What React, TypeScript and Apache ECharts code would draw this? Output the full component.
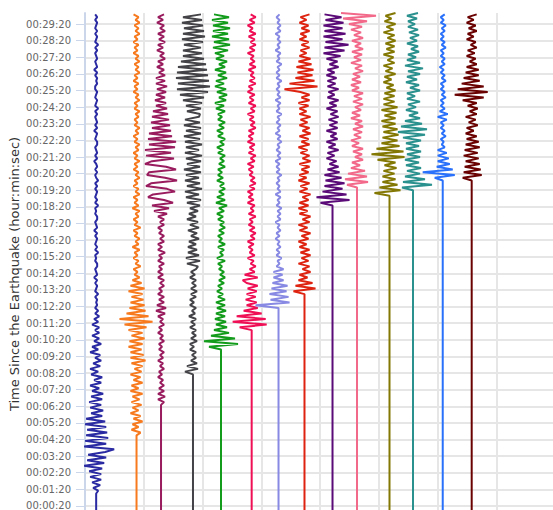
import React, { useEffect, useRef } from "react";
import * as echarts from "echarts";

const STEP = 10;
const TIME_MAX = 1800;
// one horizontal axis unit equals this many amplitude counts
const COUNTS_PER_UNIT = 58.75;

// y-axis tick positions (seconds since the earthquake)
const tickSeconds = [
  20, 80, 140, 200, 260, 320, 380, 440, 500, 560, 620, 680, 740, 800, 860,
  920, 980, 1040, 1100, 1160, 1220, 1280, 1340, 1400, 1460, 1520, 1580, 1640,
  1700, 1760,
];

const traceNames = [
  "S01", "S02", "S03", "S04", "S05", "S06", "S07",
  "S08", "S09", "S10", "S11", "S12", "S13", "S14",
];
const traceColors = [
  "#2a2aa2", "#f77a1f", "#991c5e", "#444448", "#139b1c", "#ef0f55", "#8789e3",
  "#de2411", "#5b0b77", "#f2698a", "#847805", "#2b918e", "#2970fa", "#6a0202",
];
// horizontal baseline of each trace (axis units)
const traceOffsets = [
  0.19, 0.877, 1.294, 1.838, 2.315, 2.837, 3.294,
  3.736, 4.213, 4.63, 5.183, 5.583, 6.089, 6.582,
];
// first shaking (seconds)
const arrivalSeconds = [
  75, 285, 395, 505, 595, 665, 745, 795, 1115, 1180, 1150, 1170, 1205, 1205,
];

const amp01 = [
  2, -3, 4, -4, 5, -6, 5, -7, 6, -12,
  8, -9, 10, -8, 9, 18, -12, 10, -11, 12, -10, 11, -9,
  10, -11, 9, -10,
  6, -5, 7, -6, 5, -7, 6, -5,
  7, -4, 3, -6, 5, -2, 6, -5, 2, -6, 4,
  -3, 5, -1, 4, -6, 2, -4, 5, -2, 3,
  -4, 3, -1, 3, -4, 2, -2, 3, -1, 2,
  -1, 1, 0, 1, -1, 2, -1, 0, 1, -1,
  1, -2, 1, 0, -1, 1, 1, -1, 0, -1,
  2, -1, 1, -1, 0, 1, -1, 1, -2, 1,
  0, -1, 1, 1, -1, 0, -1, 2, -1, 1,
  -1, 0, 1, -1, 1, -1, 2, 0, -1, 1,
  -1, 1, 0, -2, 1, -1, 1, 0, -1, 1,
  1, -1, 0, 1, -2, 1, -1, 1, 0, -1,
  1, -1, 2, -1, 0, 1, -1, 0, 1, -1,
  -1, 1, 0, 1, -1, 1, -2, 1, 0, -1,
  1, 0, -1, 1, -1, 2, -1, 0, 1, -1,
  1, -1, 0, 1, -1, 1, -1,
];

const amp02 = [
  4, -5, 2, -4, 6, -3, 4, -6, 2, -4, 5,
  -5, 3, -4, 6, -6, 2, -5, 6, -3, 4, -6, 5, -2, 6, -5,
  9, -6,
  7, -6, 5, -8, 6, -7, 8, -5, 6, -8,
  10, -12, 16, -17,
  12, -10, 9,
  -7, 8, -6, 7, -5, 6,
  -8, 8, -6, 5, -4,
  3, -2, 1, -3, 4, -1, 2, -3, 1, -2,
  3, -4, 2, -1, 3, -2, 1, -3, 4, -2,
  1, -3, 2, -1, 3, -4, 2, -2, 1, -3,
  3, -1, 2, -3, 1, -2, 3, -1, 2, -3,
  1, -2, 3, -2, 1, -3, 2, -1, 3, -2,
  1, -3, 2, -1, 3, -2, 1, -2, 2, -1,
  3, -2, 1, -2, 3, -1, 2, -3, 1, -2,
  2, -3, 1, -2, 3, -1, 2, -2, 3, -1,
  2, -3, 1, -2, 2, -3, 1, -2, 3, -1,
  2, -2, 3, -1, 2, -3,
];

const amp03 = [
  3, -3, 4, -3, 3,
  -2, 3, -1, 2, -3, 1, -2, 3, -1, 2, -3, 2, -1, 3, -2, 1, -2, 3, -1, 2, -3,
  1, -2, 3, -1, 2, -3,
  4, -5, 5, -4, 3,
  -2, 3, -3, 1, -2, 3, -1, 3, -3, 2, -3, 1, -2, 3, -3, 1, -2, 4, -3, 1, -3,
  3, -1, 3, -2, 1, -3, 3, -1, 3, -3,
  6, -7, 8, -9,
  12, 3, -13, -8, 14, 6, -15, -10, 16, 4, -14, -12, 15, 5, -16, -9,
  13, -15, 10, -16, 14, -12, 15, -13, 11, -12, 10, -9,
  9, -10, 8, -9, 7, -8,
  6, -5, 5, -6, 4, -5, 5, -4, 6, -5, 4, -5,
  4, -2, 3, -4, 2, -3, 4, -1, 3, -4, 2, -3, 4, -2, 3, -3, 4, -1, 3, -4, 2,
  -3, 3,
];

const amp04 = [
  -8, 5, -6,
  4, -2, 3, -1, 3, -3, 1, -3, 4, -2, 3, -1, 3, -3, 2, -2, 3, -4, 2, -1,
  3, -3, 1, -3, 3, -2, 4, -2, 3, -1, 3, -3, 2, -2, 3,
  5, -6, 7, -7, 6, -5, 4,
  -5, 3, -4, 6, -2, 4, -5, 6, -3, 5, -6, 3, -4, 5, -3,
  7, -6, 8, -7, 6, -8, 9, -6, 7, -8, 6, -7, 8, -9, 7, -6, 8, -7, 9, -8, 6,
  -7, 9, -8, 7, -9, 8, -7, 8, -9, 7, -8, 6,
  7, -6, 8, -7, 9, -10, 11,
  -13, 15, -16, 17, -15, 16, -17, 15, -16, 14, -15, 13, -12,
  11, -10, 9, -10, 8, -9,
  10, -11, 12, -10, 11, -9, 10, -11, 9, -10, 8,
];

const amp05 = [
  -12, 17, -17, 14, -10, 8, -7,
  6, -5, 5, -6, 4, -5, 5, -4, 4, -5, 4,
  -3, 2, -4, 1, -3, 3, -2, 4, -1, 3, -2, 1, -3, 4, -4, 2, -1, 3, -3, 4,
  -2, 1, -3, 3, -2, 4, -1, 3, -3, 2, -4, 3, -2,
  6, -5, 4, -4,
  3, -2, 4, -1, 3, -4, 2, -3, 1, -3, 4, -2, 3, -1, 4, -3, 2, -4, 3, -1,
  4, -3, 2, -4, 3, -2, 4, -3, 1, -3, 4,
  -5, 3, -6, 5, -2, 6, -4, 5, -6, 3, -5, 6, -3, 5, -6, 4, -2, 6, -5, 3, -6,
  7, -8, 9, -7, 8, -9, 7, -8, 9, -8, 7, -9, 8, -7,
];

const amp06 = [
  -12, 15, -19, 14, -15, 10, -8,
  6, -5, 5, -6, 4, -5, 5, -4,
  6, -5,
  -9, 6, -7,
  3, -2, 4, -1, 2, -4, 3, -2, 1, -3,
  2, -4, 3, -1, 4, -2, 3, -3, 1, -2,
  4, -3, 2, -1, 3, -4, 2, -3, 1, -4,
  3, -2, 4, -1, 3, -2, 1, -3, 2, -4,
  3, -1, 4, -3, 2, -2, 3, -4, 1, -3,
  2, -3, 4, -1, 3, -2, 2, -4, 3, -1,
  4, -3, 2, -2, 3, -4, 1, -3, 4, -2,
  3, -1, 2, -3, 4, -2, 3, -1, 2, -4,
  3, -2, 4, -1, 3, -3, 4, -2, 1, -4,
  3, -2, 4, -1,
];

const amp07 = [
  -23, 11,
  -8, 10, -9, 8, -7, 9, -6,
  5, -5, 4, -5, 5,
  -2, 1, -1, 3, -2, 1, -2, 2, -1, 1,
  -3, 1, -2, 2, -1, 1, -3, 2, -1, 2,
  -1, 3, -2, 1, -1, 2, -3, 2, -1, 1,
  -2, 1, -1, 3, -2, 1, -2, 1, -3, 2,
  -1, 2, -2, 1, -1, 3, -1, 2, -3, 1,
  -1, 2, -2, 1, -1, 3, -2, 1, -1, 2,
  -3, 2, -1, 1, -2, 1, -1, 3, -2, 1,
  -2, 1, -1, 3, -2, 1, -1, 2, -3, 1,
  -1, 2, -1, 1, -3, 2, -1, 2, -1, 1,
  -2, 1,
];

const amp08 = [
  -11, 11, -9, 8,
  -6, 3, -5, 6, -2, 5, -6, 4, -3, 6, -4, 5, -5, 2, -6, 4, -3, 6, -5, 3,
  -6, 5, -2, 6, -5, 3, -6, 4,
  -5, 4, -2, 6, -5, 3, -4, 5, -6, 2, -5, 4, -3, 5, -5, 6, -2, 5, -4, 3,
  -6, 5, -3, 4, -5, 6, -2, 5, -5, 3, -4, 6, -5, 2, -5, 4, -6, 5, -3, 5, -4,
  -20, 13, -15, 10, -9,
  8, -7, 9, -8, 7, -6, 6,
  -5, 2, -4, 5, -3, 4, -5, 2, -4, 5, -3, 4, -5, 2, -4, 5,
];

const amp09 = [
  -12, 17, -16, 14, -10,
  10, -8, 12, -7, 9, -8, 7,
  -5, 6, -3, 4, -6, 2, -5, 6, -4, 3, -6, 5, -2, 4, -6, 5, -3, 5, -4, 6,
  -2, 5, -6, 4, -3, 6, -5, 2, -4, 6, -5, 3, -5, 4, -6, 2, -5, 6, -3, 5, -6,
  8, -9, 12, -8, 16, -7, 10, -9, 13, -8, 10, -9, 11, -7, 9, -8,
];

const amp10 = [
  -10, 11, -12, 10, -9, 8,
  -6, 3, -5, 6, -2, 5, -4, 6, -5, 2, -6, 4, -3, 5, -4, 6, -2, 5, -6, 3,
  -5, 4, -2, 6, -4, 5, -3, 6, -5, 2, -6, 4, -5, 3, -4, 6, -2, 5, -6, 4,
  -3, 5, -5, 6, -2, 4, -5, 6, -3, 4, -6, 5,
  -8, 10, -14, 19, -16,
];

const amp11 = [
  -15, 11, -10, 8,
  -7, 6, -7, 5, -6, 7, -5, 6,
  -12, 15, -18, 14, -13, 10,
  -8, 8, -7, 9, -6, 8, -7, 6, -8,
  6, -5, 7, -8, 8, -6, 5, -6, 5,
  -5, 6, -3, 4, -6, 2, -5, 6, -4, 3, -6, 5, -2, 4, -6, 5, -3, 5, -4, 6,
  -2, 5, -6, 4, -3, 6, -5, 2, -4, 6,
];

const amp12 = [
  -11, 19, -10, 12, -8,
  7, -6, 8, -7, 6, -8, 7, -6, 8, -7, 6, -7, 8,
  -10, 12, -15, 14, -12, 9, -8,
  7, -4, 5, -7, 3, -5, 7, -6, 2, -6, 7, -3, 6, -7, 4, -6, 7, -5,
  10, -8, 7,
  -6, 3, -5, 6, -2, 5, -6, 4, -3, 6, -4, 5, -5, 2, -5, 4, -6, 5,
];

const amp13 = [
  -8, 12, -20, 10,
  -6, 7, -5, 6, -5, 4, -5,
  2, -1, 1, -2, 3, -1, 2, -2, 1, -2,
  4, -5, 5, -3, 2, -2, 1, -2, 3, -1,
  2, -2, 1, -2, 3, -1, 2, -2, 1, -3,
  2, -1, 2, -2, 1, -2, 3, -1, 2, -2,
  1, -2, 2, -1, 3, -2, 1, -2, 2,
];

const amp14 = [
  -9, 10, -8, 9,
  -7, 8, -6, 7, -8, 6, -7, 8, -6, 7, -5,
  5, -6, 2, -5, 6, -3, 4, -6, 5, -2, 6, -4, 5,
  -9, 12, -17, 16, -14, 12, -10,
  8, -8, 7, -6, 7, -5,
  5, -2, 4, -5, 3, -4, 5, -1, 4, -5, 2, -4, 5, -3, 4, -5, 2, -4, 5,
];

const traceAmps = [
  amp01, amp02, amp03, amp04, amp05, amp06, amp07,
  amp08, amp09, amp10, amp11, amp12, amp13, amp14,
];

function fmtTime(v: number): string {
  const m = Math.floor(v / 60);
  const s = Math.round(v - m * 60);
  const p = (n: number) => (n < 10 ? "0" + n : String(n));
  return "00:" + p(m) + ":" + p(s);
}

export default function App() {
  const ref = useRef<HTMLDivElement>(null);

  useEffect(() => {
    if (!ref.current) return;
    const chart = echarts.init(ref.current, undefined, { renderer: "svg" });

    const series = traceNames.map((name, k) => {
      const off = traceOffsets[k];
      const start = arrivalSeconds[k];
      const data: number[][] = [
        [off, 0],
        [off, start - STEP],
      ];
      traceAmps[k].forEach((a, i) => {
        const t = start + i * STEP;
        if (t <= TIME_MAX) data.push([off + a / COUNTS_PER_UNIT, t]);
      });
      return {
        name,
        type: "line",
        data,
        showSymbol: false,
        symbol: "none",
        silent: true,
        clip: true,
        lineStyle: { color: traceColors[k], width: 2 },
        itemStyle: { color: traceColors[k] },
      };
    });

    chart.setOption({
      animation: false,
      backgroundColor: "#ffffff",
      grid: {
        left: 85,
        right: -2,
        top: 13,
        bottom: -1.5,
        containLabel: false,
        outerBoundsMode: "none",
      },
      xAxis: {
        type: "value",
        min: 0,
        max: 8,
        interval: 1,
        axisLine: { show: false },
        axisTick: { show: false },
        axisLabel: { show: false },
        splitLine: { show: true, lineStyle: { color: "#e6e6e6", width: 2 } },
      },
      yAxis: {
        type: "value",
        min: 0,
        max: TIME_MAX,
        axisLine: { show: true, lineStyle: { color: "#ccd6eb", width: 2 } },
        axisTick: {
          show: true,
          customValues: tickSeconds,
          length: 9,
          lineStyle: { color: "#ccd6eb", width: 1 },
        },
        axisLabel: {
          customValues: tickSeconds,
          formatter: (v: number) => fmtTime(v),
          color: "#666666",
          fontSize: 10,
          fontFamily: "DejaVu Sans",
          margin: 14,
        },
        splitLine: { show: true, lineStyle: { color: "#e6e6e6", width: 2 } },
      },
      graphic: [
        {
          type: "text",
          x: 14,
          y: 274,
          rotation: Math.PI / 2,
          style: {
            text: "Time Since the Earthquake (hour:min:sec)",
            fill: "#333333",
            font: "13px 'DejaVu Sans'",
            textAlign: "center",
            textVerticalAlign: "middle",
          },
        },
      ],
      series,
    });

    return () => chart.dispose();
  }, []);

  return (
    <div
      ref={ref}
      style={{ position: "fixed", left: 0, top: 0, width: 553, height: 510 }}
    />
  );
}
